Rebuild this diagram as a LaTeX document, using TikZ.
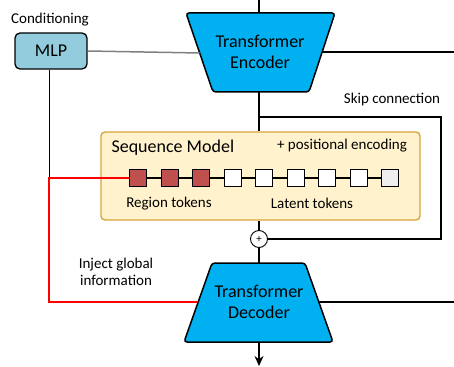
\documentclass[tikz,border=0pt]{standalone}
\usepackage{fontspec}
\setmainfont{Carlito}
\usetikzlibrary{arrows.meta}
\definecolor{tblue}{HTML}{00B0F0}
\definecolor{mlpc}{HTML}{93CDDD}
\definecolor{seqfill}{HTML}{FFF2CC}
\definecolor{seqdraw}{HTML}{D6A53A}
\definecolor{regc}{HTML}{C0504D}
\definecolor{lastc}{HTML}{EEEEEE}
\tikzset{
  trap/.style={draw=black, line width=1.5pt, fill=tblue, rounded corners=3pt},
  big/.style={font=\fontsize{18}{21}\selectfont, align=center},
  small/.style={font=\fontsize{15}{17.5}\selectfont, align=center},
  tok/.style={draw=black, line width=0.9pt, minimum size=17pt, inner sep=0pt},
  wire/.style={line width=1.5pt, black},
}
\begin{document}
\begin{tikzpicture}[x=1pt,y=-1pt]
\useasboundingbox (0,0) rectangle (454,366);
% encoder
\draw[trap] (186,13) -- (335,13) -- (309,92) -- (213,92) -- cycle;
\node[big] (enc) at (260,52) {Transformer\\Encoder};
\coordinate (encL) at (199.7,53);
\coordinate (encR) at (322,52);
\coordinate (encT) at (259,13);
\coordinate (encB) at (259,92);
% decoder
\draw[trap] (212,263) -- (305,263) -- (333,342) -- (184,342) -- cycle;
\node[big] (dec) at (259,302) {Transformer\\Decoder};
\coordinate (decL) at (198,302);
\coordinate (decR) at (318.8,302);
\coordinate (decT) at (259,263);
\coordinate (decB) at (259,342);
% MLP
\node[draw=black, line width=1.3pt, fill=mlpc, rounded corners=5pt, minimum width=72pt, minimum height=36pt, big] (mlp) at (51,51) {MLP};
\node[small] (cond) at (50,20) {Conditioning};
% top incoming
\coordinate (top) at (259,0);
\draw[wire] (top) -- (encT);
\draw[line width=1.5pt, black!50] (mlp.east) -- (encL);
\coordinate (encOut) at (454,52);
\draw[wire] (encR) -- (encOut);
% skip
\coordinate (sk1) at (259,117);
\coordinate (sk2) at (441,117);
\coordinate (sk3) at (441,239);
\node[draw=black, line width=0.9pt, circle, minimum size=17pt, inner sep=0pt, fill=white, font=\fontsize{11}{11}\selectfont] (plus) at (259,239) {+};
\node[small] (skl) at (392,100) {Skip connection};
% sequence box
\node[draw=seqdraw, line width=1.4pt, fill=seqfill, rounded corners=4pt, minimum width=319pt, minimum height=88pt] (seq) at (260.5,176) {};
\draw[wire] (encB) -- (seq.north -| encB);
\draw[wire] (sk1) -- (sk2) -- (sk3) -- (plus.east);
\node[big, anchor=west] (seqt) at (108,148) {Sequence Model};
\node[small] (pos) at (342,146) {+ positional encoding};
% tokens
\foreach \i/\x in {1/138,2/170,3/201,4/233,5/264,6/296,7/327,8/359,9/390}{
  \node[tok, fill=white] (t\i) at (\x,178) {};
}
\draw[line width=2.4pt] (t1) -- (t9);
\foreach \i/\x in {1/138,2/170,3/201}{ \node[tok, fill=regc] at (\x,178) {}; }
\foreach \i/\x in {4/233,5/264,6/296,7/327,8/359}{ \node[tok, fill=white] at (\x,178) {}; }
\node[tok, fill=lastc] at (390,178) {};
\node[small] (regl) at (169,204) {Region tokens};
\node[small] (latl) at (312,203) {Latent tokens};
% lower main line
\draw[wire] (seq.south -| plus) -- (plus.north);
\draw[wire] (plus.south) -- (decT);
\coordinate (decOut) at (454,302);
\draw[wire] (decR) -- (decOut);
\coordinate (bot) at (259,366);
\draw[wire, -{Stealth[length=10pt,width=9pt]}] (decB) -- (bot);
% conditioning paths
\coordinate (c1) at (49,178);
\coordinate (c2) at (49,302);
\draw[line width=1pt, black] (mlp.south -| c1) -- (c1);
\draw[line width=1.5pt, red] (t1.west) -- (c1) -- (c2) -- (decL);
\node[small] (inj) at (116,272) {Inject global\\information};
\end{tikzpicture}
\end{document}
